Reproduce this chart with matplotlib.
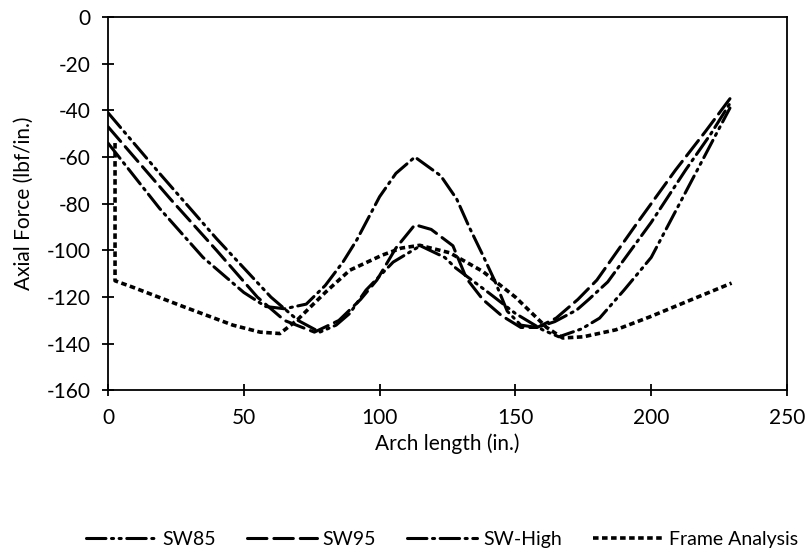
import numpy as np
import matplotlib
matplotlib.use('Agg')
import matplotlib.pyplot as plt

# --- data ---
sw85_x = [0, 19, 40, 60, 70, 78, 84, 89, 95, 105, 115, 124, 128, 140, 150, 160, 166,
          174.4, 181, 190, 200, 217, 224, 229]
sw85_y = [-41, -67, -95, -120, -130, -135, -132, -127, -117, -105, -98, -103, -107.5,
          -118, -127, -134, -137, -133.6, -129, -117, -103, -65.5, -50, -39]

sw95_x = [0, 23, 40, 55, 65, 76, 85, 93, 99, 106, 113, 119, 127, 132, 138, 145, 152,
          158, 165, 173, 180, 195, 209, 220, 229]
sw95_y = [-47, -78, -100, -120, -130, -135, -130, -121, -112.7, -99, -89, -91, -98,
          -112, -121, -128, -133, -133, -129, -121, -112.7, -88, -65.5, -49, -35]

swhigh_x = [0, 19, 35, 50, 58, 65, 73, 80, 86.5, 91.6, 100, 106, 113, 122.5, 128.4,
            133, 138, 142.4, 147, 152, 158, 164.5, 172.6, 177, 184, 200, 212.7, 222, 229]
swhigh_y = [-54, -82, -103, -118, -124, -125, -123, -115, -105, -95.5, -77, -67, -60,
            -68, -78, -90, -102, -113, -126, -132, -133, -130.5, -125.5, -121, -113.5,
            -88, -65.5, -50, -37]

frame_x = [2.6, 2.6, 9, 27.6, 46, 56, 63.3, 69.5, 80, 89, 101, 108, 114.8, 125.8, 138,
           150, 161.5, 167.4, 175, 187, 199.4, 215, 229.6]
frame_y = [-54, -113, -115.7, -124, -132, -135, -135.6, -130, -118, -108.5, -102, -99,
           -97.8, -101, -109, -120, -133, -137.5, -137, -134, -128.5, -121, -114]

x_ticks = [0, 50, 100, 150, 200, 250]
y_ticks = [0, -20, -40, -60, -80, -100, -120, -140, -160]

plt.rcParams['font.family'] = ['Lato', 'DejaVu Sans']
plt.rcParams['axes.unicode_minus'] = False
plt.rcParams['lines.scale_dashes'] = False

fig = plt.figure(figsize=(8.1, 5.55), dpi=100)
ax = fig.add_axes([0.1333, 0.2964, 0.8383, 0.673])

ax.plot(sw85_x, sw85_y, color='black', lw=2.2, dashes=(14, 4, 1.5, 4, 1.5, 4),
        dash_capstyle='round', label='SW85')
ax.plot(sw95_x, sw95_y, color='black', lw=2.2, dashes=(14, 5),
        dash_capstyle='round', label='SW95')
ax.plot(swhigh_x, swhigh_y, color='black', lw=2.2, dashes=(14, 4, 1.5, 4),
        dash_capstyle='round', label='SW-High')
ax.plot(frame_x, frame_y, color='black', lw=2.6, dashes=(4, 2.5),
        label='Frame Analysis')

ax.set_xlim(0, 250)
ax.set_ylim(-160, 0)
ax.set_xticks(x_ticks)
ax.set_yticks(y_ticks)
ax.tick_params(direction='inout', length=9, width=1.3, labelsize=15, pad=8,
               top=False, right=False)
for s in ax.spines.values():
    s.set_linewidth(1.3)

ax.set_xlabel('Arch length (in.)', fontsize=15, labelpad=4)
ax.set_ylabel('Axial Force (lbf/in.)', fontsize=15, labelpad=9)

leg = fig.legend(loc='center', bbox_to_anchor=(0.546, 0.028), ncol=4, frameon=False,
                 fontsize=14, handlelength=3.6, columnspacing=1.6, handletextpad=0.3)

fig.savefig('out.png', dpi=100)
